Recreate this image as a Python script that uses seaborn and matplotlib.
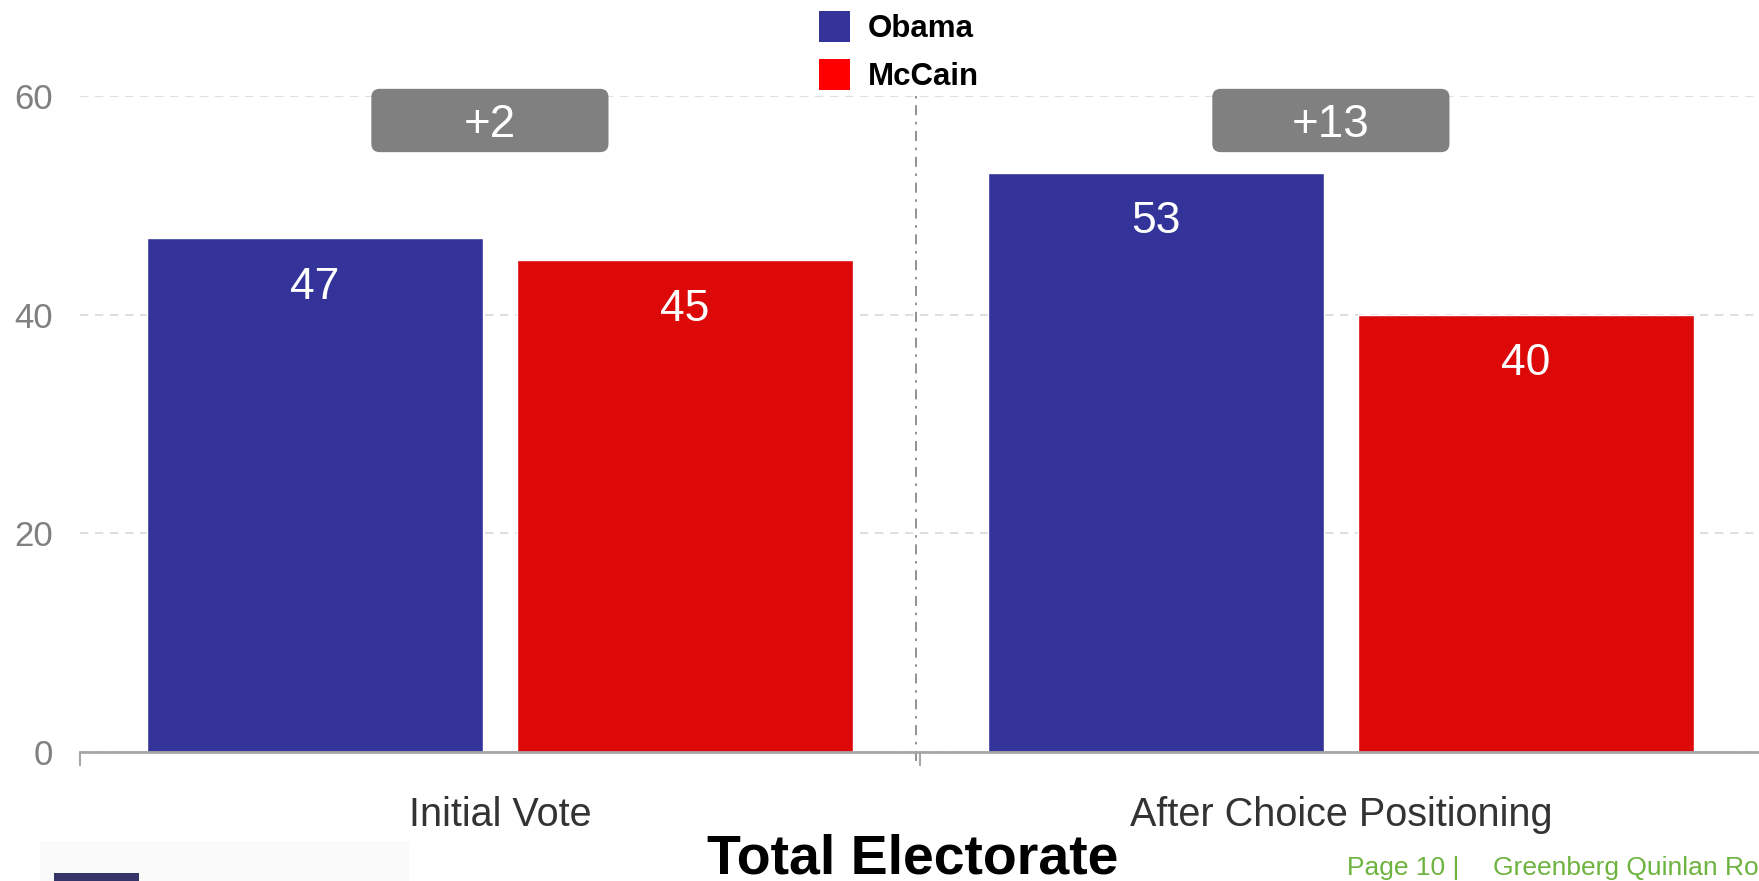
"""
Vote shift chart: Obama vs McCain, initial vote and after choice positioning.
"""
import numpy as np
import pandas as pd
import matplotlib
matplotlib.use("Agg")
import matplotlib.pyplot as plt
import seaborn as sns
from matplotlib.patches import Patch, FancyBboxPatch, Rectangle

# --- data ---
stages = ["Initial Vote", "After Choice Positioning"]
candidates = ["Obama", "McCain"]
obama_vals = [47, 53]
mccain_vals = [45, 40]
y_ticks = [0, 20, 40, 60]

bar_colors = ["#333399", "#DD0808"]
legend_colors = ["#333399", "#FF0000"]

chart_title = "Total Electorate"
footer_page = "Page 10 |"
footer_firm = "Greenberg Quinlan Rosner"

df = pd.DataFrame({
    "stage": stages * 2,
    "candidate": [candidates[0]] * len(stages) + [candidates[1]] * len(stages),
    "value": obama_vals + mccain_vals,
})

sns.set_theme(style="white")
plt.rcParams["font.family"] = ["Liberation Sans", "DejaVu Sans"]

fig = plt.figure(figsize=(17.59, 8.81), dpi=100)
ax = fig.add_axes([0.0452, 0.1469, 0.9562, 0.7436])

sns.barplot(
    data=df, x="stage", y="value", hue="candidate",
    order=stages, hue_order=candidates, palette=bar_colors,
    width=0.88, gap=0.09, saturation=1, errorbar=None,
    legend=False, ax=ax,
)

# value labels inside the bars
for cont in ax.containers:
    ax.bar_label(cont, padding=-50, color="white", fontsize=32)

# margin boxes above each group
for i, (o, m) in enumerate(zip(obama_vals, mccain_vals)):
    box = FancyBboxPatch(
        (i - 0.153, 54.9), 0.282, 5.8,
        boxstyle="round,pad=0,rounding_size=0.01", mutation_aspect=77,
        fc="#808080", ec="none", clip_on=False, zorder=5,
    )
    ax.add_patch(box)
    ax.text(i - 0.012, 57.8, f"+{o - m}", ha="center", va="center_baseline",
            color="white", fontsize=33, zorder=6, clip_on=False)

# divider between the groups
ax.axvline(0.495, ymin=-0.015, ymax=1, color="#7f7f7f", lw=1.2,
           ls=(0, (6, 4, 1.5, 4)), clip_on=False, zorder=1)

# axes styling
ax.set_ylim(0, 60)
ax.set_xlim(-0.5, len(stages) - 0.5)
ax.set_yticks(y_ticks)
ax.set_xlabel("")
ax.set_ylabel("")
ax.tick_params(axis="y", length=0, pad=19, labelsize=25, labelcolor="#808080")
ax.tick_params(axis="x", which="major", length=0, pad=32, labelsize=28.5,
               labelcolor="#333333")
ax.set_xticks(np.arange(len(stages) + 1) - 0.5, minor=True)
ax.tick_params(axis="x", which="minor", bottom=True, length=10, width=1.5,
               color="#a6a6a6", direction="out")
ax.grid(axis="y", ls=(0, (5, 4)), color="#d9d9d9", lw=1.2)
ax.set_axisbelow(True)
sns.despine(ax=ax, left=True)
ax.spines["bottom"].set_color("#a6a6a6")
ax.spines["bottom"].set_linewidth(2)

# legend
handles = [Patch(facecolor=c, edgecolor="none", label=n)
           for c, n in zip(legend_colors, candidates)]
fig.legend(handles=handles, loc="upper left", bbox_to_anchor=(0.4656, 0.988),
           frameon=False, borderpad=0, borderaxespad=0,
           handlelength=1.0, handleheight=1.16, handletextpad=0.55,
           labelspacing=0.49, prop={"weight": "bold", "size": 22.5},
           labelcolor="black")

# title and footer
fig.text(0.519, 0.009, chart_title, ha="center", va="baseline",
         fontsize=40, fontweight="bold", color="black")
fig.text(0.7655, 0.0068, footer_page, ha="left", va="baseline",
         fontsize=19, color="#6DB33F")
fig.text(0.8485, 0.0068, footer_firm, ha="left", va="baseline",
         fontsize=19, color="#6DB33F")

# logo fragment in the bottom-left corner
fig.patches.append(Rectangle((0.0227, 0.0), 0.2098, 0.0454, transform=fig.transFigure,
                             fc="#fafafa", ec="none", zorder=0))
fig.patches.append(Rectangle((0.0307, 0.0), 0.0483, 0.0091, transform=fig.transFigure,
                             fc="#353567", ec="none", zorder=1))

fig.savefig("out.png", dpi=100)
